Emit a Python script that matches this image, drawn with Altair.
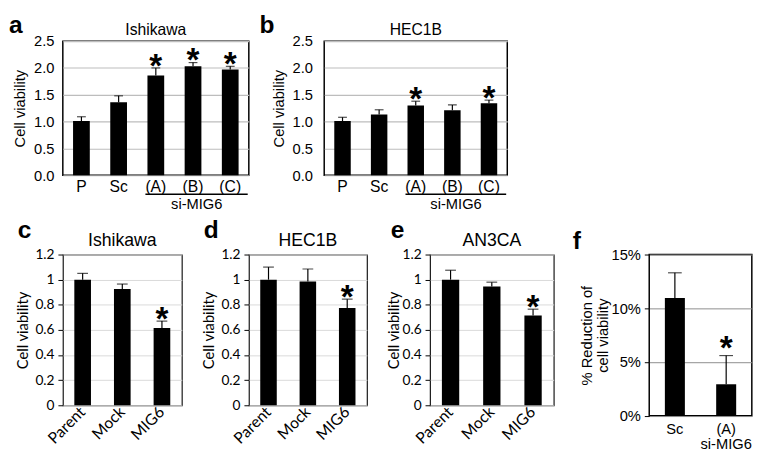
import altair as alt
import pandas as pd

# ---------------- data ----------------
top_cats = ["P", "Sc", "(A)", "(B)", "(C)"]
a_vals = [1.01, 1.36, 1.86, 2.03, 1.97]
a_errs = [0.08, 0.12, 0.14, 0.07, 0.06]
a_sig = ["", "", "*", "*", "*"]

b_vals = [1.01, 1.13, 1.30, 1.21, 1.34]
b_errs = [0.07, 0.09, 0.08, 0.10, 0.06]
b_sig = ["", "", "*", "", "*"]

low_cats = ["Parent", "Mock", "MIG6"]
c_vals = [1.00, 0.925, 0.615]
c_errs = [0.05, 0.04, 0.055]
c_sig = ["", "", "*"]

d_vals = [1.00, 0.985, 0.775]
d_errs = [0.10, 0.10, 0.07]
d_sig = ["", "", "*"]

e_vals = [1.00, 0.945, 0.715]
e_errs = [0.075, 0.035, 0.05]
e_sig = ["", "", "*"]

f_cats = ["Sc", "(A)"]
f_vals = [10.95, 2.93]
f_errs = [2.35, 2.67]
f_sig = ["", "*"]

top_ticks = [0, 0.5, 1.0, 1.5, 2.0, 2.5]
low_ticks = [0, 0.2, 0.4, 0.6, 0.8, 1, 1.2]
f_ticks = [0, 5, 10, 15]

ARIAL = "Liberation Sans"
CALIBRI = "Lato"


def panel(cats, vals, errs, sig, letter, title, ytitle, c):
    w, h = c["w"], c["h"]
    df = pd.DataFrame({
        "cat": cats,
        "val": vals,
        "top": [round(v + e, 4) for v, e in zip(vals, errs)],
        "sig": sig,
    })
    xs = alt.Scale(domain=cats, paddingInner=0, paddingOuter=0)
    ys = alt.Scale(domain=[0, c["ymax"]], nice=False, zero=True)

    xa = dict(title=None, labelAngle=c["xangle"], labelFont=c["xfont"],
              labelFontSize=c["xsize"], labelColor="black", labelPadding=c["xpad"],
              ticks=False, tickSize=0, domain=False, grid=False)
    if c["xangle"] != 0:
        xa.update(labelAlign="right", labelBaseline="middle")
    if "xexpr" in c:
        xa.update(labelExpr=c["xexpr"], labelLineHeight=15)
    ya = dict(title=ytitle, values=c["yticks"], tickCount=len(c["yticks"]),
              labelOverlap=False, labelFont=c["yfont"],
              labelFontSize=c["ysize"], labelColor="black", labelPadding=c["ypad"],
              ticks=c["yticksOn"], tickSize=c["tickSize"], tickColor="black",
              domain=False, grid=True, gridColor=c["grid"], gridWidth=c["gridW"],
              titleFont=c["tfont"], titleFontSize=c["tsize"], titleFontWeight="normal",
              titleColor="black", titlePadding=c["tp"],
              minExtent=c["ext"], maxExtent=c["ext"])
    if "yexpr" in c:
        ya.update(labelExpr=c["yexpr"], titleLineHeight=16)
    else:
        ya.update(format=c["yfmt"])

    base = alt.Chart(df)
    bars = base.mark_bar(color="black", width=alt.RelativeBandSize(c["bw"])).encode(
        x=alt.X("cat:N", scale=xs, axis=alt.Axis(**xa)),
        y=alt.Y("val:Q", scale=ys, axis=alt.Axis(**ya)),
    )
    err = base.mark_rule(color="black", strokeWidth=1.2).encode(
        x=alt.X("cat:N", scale=xs),
        y=alt.Y("val:Q", scale=ys),
        y2="top:Q",
    )
    cap = base.mark_tick(color="black", size=c["cap"], thickness=1.2).encode(
        x=alt.X("cat:N", scale=xs),
        y=alt.Y("top:Q", scale=ys),
    )
    star = base.mark_text(font=ARIAL, fontSize=34, fontWeight="bold", color="black",
                          baseline="alphabetic", dy=c["stardy"]).encode(
        x=alt.X("cat:N", scale=xs),
        y=alt.Y("top:Q", scale=ys),
        text="sig:N",
    )
    lab = alt.Chart(pd.DataFrame({"t": [letter]})).mark_text(
        font=ARIAL, fontSize=25, fontWeight="bold", color="black",
        align="left", baseline="alphabetic").encode(
        x=alt.value(c["lx"]), y=alt.value(c["ly"]), text="t:N")
    layers = [bars, err, cap, star, lab]
    if title:
        ttl = alt.Chart(pd.DataFrame({"t": [title]})).mark_text(
            font=ARIAL, fontSize=c["titleSize"], color="black",
            align="center", baseline="alphabetic").encode(
            x=alt.value(w / 2), y=alt.value(c["titleY"]), text="t:N")
        layers.append(ttl)
    if c.get("under"):
        g = pd.DataFrame({"g": ["si-MIG6"]})
        line = alt.Chart(g).mark_rule(color="black", strokeWidth=1.6).encode(
            x=alt.XDatum("(A)", type="nominal", scale=xs, bandPosition=0.22),
            x2=alt.X2Datum("(C)", bandPosition=0.97),
            y=alt.value(h + 19.5))
        txt = alt.Chart(g).mark_text(font=ARIAL, fontSize=15, color="black",
                                     align="center", baseline="alphabetic").encode(
            x=alt.XDatum("(B)", type="nominal", scale=xs, bandPosition=0.6),
            y=alt.value(h + 34), text="g:N")
        layers += [line, txt]
    return alt.layer(*layers).properties(
        width=w, height=h,
        view=alt.ViewBackground(stroke="black", strokeWidth=c["frame"]))


top_common = dict(h=137, ymax=2.5, yticks=top_ticks, yfmt=".1f", yfont=ARIAL, ysize=15,
                  yticksOn=False, tickSize=0, grid="#bdbdbd", gridW=1.2,
                  tfont=ARIAL, tsize=15, xangle=0, xfont=ARIAL, xsize=16, xpad=4,
                  bw=0.45, cap=9, stardy=9, ly=-8, titleSize=16, titleY=-6.5,
                  frame=1.5, under=True)
low_common = dict(h=154, ymax=1.2, yticks=low_ticks, yfmt="~g", yfont=CALIBRI, ysize=14,
                  yticksOn=True, tickSize=5, ypad=4, grid="#d9d9d9", gridW=1,
                  tfont=CALIBRI, tsize=15, xangle=-45, xfont=CALIBRI, xsize=16, xpad=4,
                  bw=0.42, cap=11, stardy=9, ly=-16.6, titleSize=18, titleY=-8.8,
                  frame=1.1)

pa = panel(top_cats, a_vals, a_errs, a_sig, "a", "Ishikawa", "Cell viability",
           dict(top_common, w=190, ypad=9, ext=30, tp=6, lx=-55))
pb = panel(top_cats, b_vals, b_errs, b_sig, "b", "HEC1B", "Cell viability",
           dict(top_common, w=187, ypad=12, ext=33, tp=6, lx=-66))
pc = panel(low_cats, c_vals, c_errs, c_sig, "c", "Ishikawa", "Cell viability",
           dict(low_common, w=121.5, ext=29, tp=4, lx=-46))
pd_ = panel(low_cats, d_vals, d_errs, d_sig, "d", "HEC1B", "Cell viability",
            dict(low_common, w=120.6, ext=29, tp=4, lx=-46))
pe = panel(low_cats, e_vals, e_errs, e_sig, "e", "AN3CA", "Cell viability",
           dict(low_common, w=126.4, ext=28, tp=1, lx=-40))
pf = panel(f_cats, f_vals, f_errs, f_sig, "f", None, ["% Reduction of", "cell viability"],
           dict(h=164.7, w=104.8, ymax=15, yticks=f_ticks, yexpr="datum.value + '%'",
                yfont=ARIAL, ysize=15, yticksOn=True, tickSize=5, ypad=4,
                grid="#8c8c8c", gridW=1, tfont=ARIAL, tsize=15, ext=40, tp=0,
                xangle=0, xfont=ARIAL, xsize=15, xpad=6,
                xexpr="datum.value == '(A)' ? ['(A)', 'si-MIG6'] : datum.label",
                bw=0.39, cap=14, stardy=3, lx=-78, ly=-5.9, frame=1.5))

row1 = alt.hconcat(pa, pb, spacing=9)
row2 = alt.hconcat(pc, pd_, pe, pf, spacing=18)
chart = alt.vconcat(row1, row2, spacing=5, padding=0).configure_view(
    stroke="black").configure_axis(labelFontWeight="normal")

chart.save("out.html", embed_options={"renderer": "svg", "actions": False})
